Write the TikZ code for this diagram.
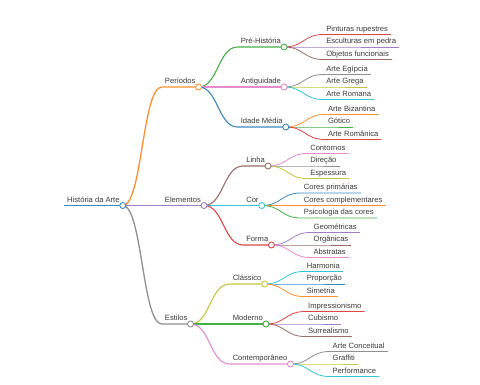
\documentclass[tikz,border=0pt]{standalone}
\usepackage{fontspec}
\setmainfont{Liberation Sans}
\usetikzlibrary{calc, positioning}
\definecolor{tblue}{HTML}{3A88C0}
\definecolor{torange}{HTML}{FF9030}
\definecolor{tgreen}{HTML}{45B045}
\definecolor{tred}{HTML}{DC4647}
\definecolor{tpurple}{HTML}{A17DC6}
\definecolor{tbrown}{HTML}{9A6D64}
\definecolor{tpink}{HTML}{E88BCB}
\definecolor{tgray}{HTML}{8F8F8F}
\definecolor{tolive}{HTML}{C6C73E}
\definecolor{tcyan}{HTML}{34C6D6}
\definecolor{txt}{HTML}{3A3A3A}
\begin{document}
\begin{tikzpicture}[x=1pt,y=-1pt]

\tikzset{topic/.style = {anchor=south west, inner xsep=3pt, inner ysep=3pt, text depth=0pt, text=txt, font=\fontsize{7.6}{9}\selectfont}}
\tikzset{dot/.style = {circle, draw=#1, fill=white, inner sep=0pt, minimum size=6pt, line width=0.9pt}}
\tikzset{link/.style = {to path={let \p1=(\tikztostart), \p2=(\tikztotarget) in .. controls ({0.5*\x1+0.5*\x2},\y1) and ({0.5*\x1+0.5*\x2},\y2) .. (\tikztotarget)}}}
\tikzset{lvl0/.style = {line width=1.9pt}, lvl1/.style = {line width=1.3pt}, lvl2/.style = {line width=1.1pt}, lvl3/.style = {line width=0.8pt}}

\useasboundingbox (0,0) rectangle (480,384);

% topics
\node[topic] (root) at (64,205.5) {História da Arte};
\node[topic] (peri) at ([xshift=39pt,yshift=118.5pt]root.south east) {Períodos};
\node[topic] (elem) at ([xshift=39pt]root.south east) {Elementos};
\node[topic] (esti) at ([xshift=39pt,yshift=-118.5pt]root.south east) {Estilos};

\node[topic] (pre) at ([xshift=39pt,yshift=40pt]peri.south east) {Pré-História};
\node[topic] (anti) at ([xshift=39pt]peri.south east) {Antiguidade};
\node[topic] (idade) at ([xshift=39pt,yshift=-40pt]peri.south east) {Idade Média};
\node[topic] (linha) at ([xshift=39pt,yshift=39.5pt]elem.south east) {Linha};
\node[topic] (cor) at ([xshift=39pt]elem.south east) {Cor};
\node[topic] (forma) at ([xshift=39pt,yshift=-39.5pt]elem.south east) {Forma};
\node[topic] (class) at ([xshift=39pt,yshift=40pt]esti.south east) {Clássico};
\node[topic] (mod) at ([xshift=39pt]esti.south east) {Moderno};
\node[topic] (contemp) at ([xshift=39pt,yshift=-40pt]esti.south east) {Contemporâneo};

% leaves
\node[topic] (pint) at ([xshift=39pt,yshift=12.5pt]pre.south east) {Pinturas rupestres};
\node[topic] (escu) at ([xshift=39pt]pre.south east) {Esculturas em pedra};
\node[topic] (obje) at ([xshift=39pt,yshift=-12.5pt]pre.south east) {Objetos funcionais};
\node[topic] (egip) at ([xshift=39pt,yshift=12.5pt]anti.south east) {Arte Egípcia};
\node[topic] (greg) at ([xshift=39pt]anti.south east) {Arte Grega};
\node[topic] (romana) at ([xshift=39pt,yshift=-12.5pt]anti.south east) {Arte Romana};
\node[topic] (biza) at ([xshift=39pt,yshift=12.5pt]idade.south east) {Arte Bizantina};
\node[topic] (goti) at ([xshift=39pt]idade.south east) {Gótico};
\node[topic] (romanica) at ([xshift=39pt,yshift=-12.5pt]idade.south east) {Arte Românica};
\node[topic] (contor) at ([xshift=39pt,yshift=12.5pt]linha.south east) {Contornos};
\node[topic] (dire) at ([xshift=39pt]linha.south east) {Direção};
\node[topic] (espe) at ([xshift=39pt,yshift=-12.5pt]linha.south east) {Espessura};
\node[topic] (prim) at ([xshift=39pt,yshift=12.5pt]cor.south east) {Cores primárias};
\node[topic] (compl) at ([xshift=39pt]cor.south east) {Cores complementares};
\node[topic] (psic) at ([xshift=39pt,yshift=-12.5pt]cor.south east) {Psicologia das cores};
\node[topic] (geom) at ([xshift=39pt,yshift=12.5pt]forma.south east) {Geométricas};
\node[topic] (orga) at ([xshift=39pt]forma.south east) {Orgânicas};
\node[topic] (abst) at ([xshift=39pt,yshift=-12.5pt]forma.south east) {Abstratas};
\node[topic] (harm) at ([xshift=39pt,yshift=12.5pt]class.south east) {Harmonia};
\node[topic] (prop) at ([xshift=39pt]class.south east) {Proporção};
\node[topic] (sime) at ([xshift=39pt,yshift=-12.5pt]class.south east) {Simetria};
\node[topic] (impr) at ([xshift=39pt,yshift=12.5pt]mod.south east) {Impressionismo};
\node[topic] (cubi) at ([xshift=39pt]mod.south east) {Cubismo};
\node[topic] (surr) at ([xshift=39pt,yshift=-12.5pt]mod.south east) {Surrealismo};
\node[topic] (conc) at ([xshift=39pt,yshift=12.5pt]contemp.south east) {Arte Conceitual};
\node[topic] (graf) at ([xshift=39pt]contemp.south east) {Graffiti};
\node[topic] (perf) at ([xshift=39pt,yshift=-12.5pt]contemp.south east) {Performance};

% links
\draw[lvl0, tblue] (root.south west) -- (root.south east);
\draw[lvl1, torange] (root.south east) to[link] (peri.south west) -- (peri.south east);
\draw[lvl1, tpurple] (root.south east) to[link] (elem.south west) -- (elem.south east);
\draw[lvl1, tgray] (root.south east) to[link] (esti.south west) -- (esti.south east);

\draw[lvl2, tgreen] (peri.south east) to[link] (pre.south west) -- (pre.south east);
\draw[lvl2, tpink] (peri.south east) to[link] (anti.south west) -- (anti.south east);
\draw[lvl2, tblue] (peri.south east) to[link] (idade.south west) -- (idade.south east);
\draw[lvl2, tbrown] (elem.south east) to[link] (linha.south west) -- (linha.south east);
\draw[lvl2, tcyan] (elem.south east) to[link] (cor.south west) -- (cor.south east);
\draw[lvl2, tred] (elem.south east) to[link] (forma.south west) -- (forma.south east);
\draw[lvl2, tolive] (esti.south east) to[link] (class.south west) -- (class.south east);
\draw[lvl2, tgreen] (esti.south east) to[link] (mod.south west) -- (mod.south east);
\draw[lvl2, tpink] (esti.south east) to[link] (contemp.south west) -- (contemp.south east);

\draw[lvl3, tred] (pre.south east) to[link] (pint.south west) -- (pint.south east);
\draw[lvl3, tpurple] (pre.south east) to[link] (escu.south west) -- (escu.south east);
\draw[lvl3, tbrown] (pre.south east) to[link] (obje.south west) -- (obje.south east);
\draw[lvl3, tgray] (anti.south east) to[link] (egip.south west) -- (egip.south east);
\draw[lvl3, tolive] (anti.south east) to[link] (greg.south west) -- (greg.south east);
\draw[lvl3, tcyan] (anti.south east) to[link] (romana.south west) -- (romana.south east);
\draw[lvl3, torange] (idade.south east) to[link] (biza.south west) -- (biza.south east);
\draw[lvl3, tgreen] (idade.south east) to[link] (goti.south west) -- (goti.south east);
\draw[lvl3, tred] (idade.south east) to[link] (romanica.south west) -- (romanica.south east);
\draw[lvl3, tpink] (linha.south east) to[link] (contor.south west) -- (contor.south east);
\draw[lvl3, tgray] (linha.south east) to[link] (dire.south west) -- (dire.south east);
\draw[lvl3, tolive] (linha.south east) to[link] (espe.south west) -- (espe.south east);
\draw[lvl3, tblue] (cor.south east) to[link] (prim.south west) -- (prim.south east);
\draw[lvl3, torange] (cor.south east) to[link] (compl.south west) -- (compl.south east);
\draw[lvl3, tgreen] (cor.south east) to[link] (psic.south west) -- (psic.south east);
\draw[lvl3, tpurple] (forma.south east) to[link] (geom.south west) -- (geom.south east);
\draw[lvl3, tbrown] (forma.south east) to[link] (orga.south west) -- (orga.south east);
\draw[lvl3, tpink] (forma.south east) to[link] (abst.south west) -- (abst.south east);
\draw[lvl3, tcyan] (class.south east) to[link] (harm.south west) -- (harm.south east);
\draw[lvl3, tblue] (class.south east) to[link] (prop.south west) -- (prop.south east);
\draw[lvl3, torange] (class.south east) to[link] (sime.south west) -- (sime.south east);
\draw[lvl3, tred] (mod.south east) to[link] (impr.south west) -- (impr.south east);
\draw[lvl3, tpurple] (mod.south east) to[link] (cubi.south west) -- (cubi.south east);
\draw[lvl3, tbrown] (mod.south east) to[link] (surr.south west) -- (surr.south east);
\draw[lvl3, tgray] (contemp.south east) to[link] (conc.south west) -- (conc.south east);
\draw[lvl3, tolive] (contemp.south east) to[link] (graf.south west) -- (graf.south east);
\draw[lvl3, tcyan] (contemp.south east) to[link] (perf.south west) -- (perf.south east);

% knots
\node[dot=tblue] (root-k) at (root.south east) {};
\node[dot=torange] (peri-k) at (peri.south east) {};
\node[dot=tpurple] (elem-k) at (elem.south east) {};
\node[dot=tgray] (esti-k) at (esti.south east) {};
\node[dot=tgreen] (pre-k) at (pre.south east) {};
\node[dot=tpink] (anti-k) at (anti.south east) {};
\node[dot=tblue] (idade-k) at (idade.south east) {};
\node[dot=tbrown] (linha-k) at (linha.south east) {};
\node[dot=tcyan] (cor-k) at (cor.south east) {};
\node[dot=tred] (forma-k) at (forma.south east) {};
\node[dot=tolive] (class-k) at (class.south east) {};
\node[dot=tgreen] (mod-k) at (mod.south east) {};
\node[dot=tpink] (contemp-k) at (contemp.south east) {};
\end{tikzpicture}
\end{document}
